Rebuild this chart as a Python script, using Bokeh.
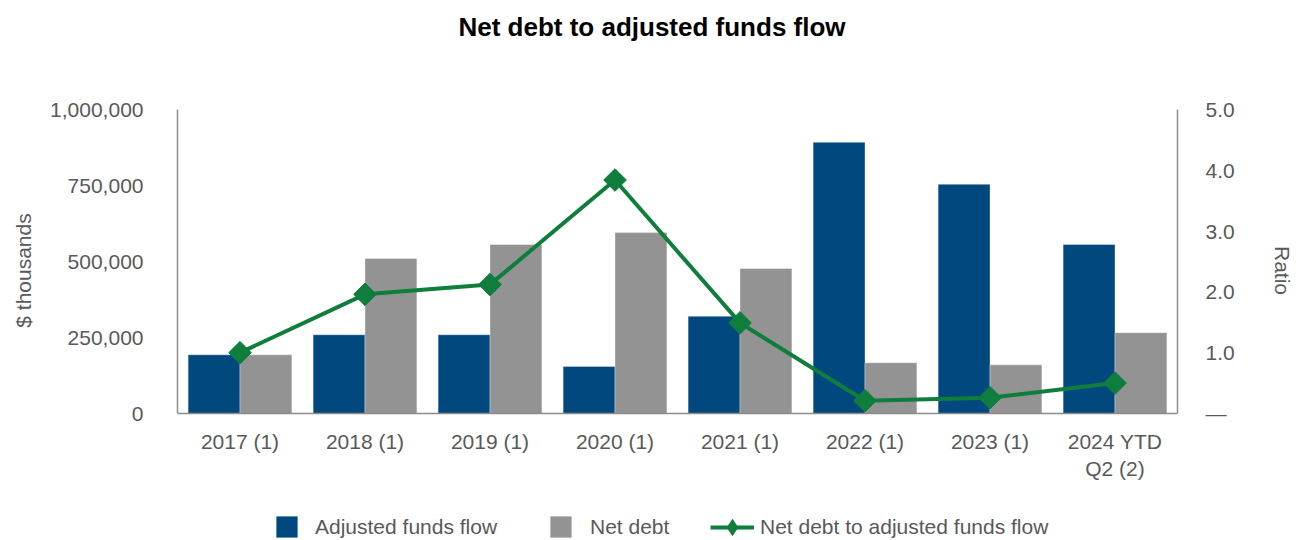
from bokeh.plotting import figure
from bokeh.models import (FactorRange, Range1d, LinearAxis, FixedTicker, NumeralTickFormatter,
                          ColumnDataSource, Legend, LegendItem, Label)
from bokeh.transform import dodge
from bokeh.embed import file_html
from bokeh.resources import INLINE

# ---- data ----
categories = ["2017 (1)", "2018 (1)", "2019 (1)", "2020 (1)", "2021 (1)",
              "2022 (1)", "2023 (1)", "2024 YTD\nQ2 (2)"]
adjusted_funds_flow = [193000, 259000, 259000, 155000, 320000, 892000, 754000, 556000]
net_debt = [193000, 510000, 556000, 595000, 477000, 167000, 160000, 266000]
ratio = [1.00, 1.96, 2.12, 3.84, 1.49, 0.21, 0.26, 0.50]
left_ticks = [0, 250000, 500000, 750000, 1000000]
right_ticks = [0, 1, 2, 3, 4, 5]
left_max = 1_000_000
right_max = 5

title_text = "Net debt to adjusted funds flow"
left_label = "$ thousands"
right_label = "Ratio"
series_names = ["Adjusted funds flow", "Net debt", "Net debt to adjusted funds flow"]

# ---- style / layout (pixels) ----
BLUE = "#00487d"
GRAY = "#939393"
GREEN = "#0f7d3c"
TEXT = "#595959"
AXIS = "#8c8c8c"
FONT = "Liberation Sans"
FS = "21px"
W, H = 1296, 540
FRAME_L, FRAME_R = 177, 1182
PX_TOP, PX_ZERO = 109, 413        # pixel rows of the axis maximum and of zero

# the plot frame covers the full height; value ranges are extended so that
# 0..max sits between PX_ZERO and PX_TOP
span = PX_ZERO - PX_TOP
y_lo = -left_max * (H - PX_ZERO) / span
y_hi = left_max * PX_ZERO / span
r_lo = -right_max * (H - PX_ZERO) / span
r_hi = right_max * PX_ZERO / span

src = ColumnDataSource(dict(cat=categories, aff=adjusted_funds_flow, nd=net_debt, ratio=ratio))

p = figure(x_range=FactorRange(factors=categories, range_padding=0),
           y_range=Range1d(y_lo, y_hi),
           width=W, height=H, output_backend="svg", toolbar_location=None,
           min_border_left=FRAME_L, min_border_right=W - FRAME_R,
           min_border_top=0, min_border_bottom=0)
p.extra_y_ranges = {"ratio": Range1d(r_lo, r_hi)}

p.outline_line_color = None
p.xgrid.grid_line_color = None
p.ygrid.grid_line_color = None
p.background_fill_color = "white"
p.border_fill_color = "white"

r_aff = p.vbar(x=dodge("cat", -0.2075, range=p.x_range), top="aff", width=0.415, source=src,
               fill_color=BLUE, line_color="white", line_alpha=0.35, line_width=1)
r_nd = p.vbar(x=dodge("cat", 0.2075, range=p.x_range), top="nd", width=0.415, source=src,
              fill_color=GRAY, line_color="white", line_alpha=0.35, line_width=1)
r_line = p.line(x="cat", y="ratio", source=src, y_range_name="ratio", line_width=4, line_color=GREEN)
# diamond key (sits fully underneath the rotated-square markers; gives the legend its diamond)
r_key = p.scatter(x="cat", y="ratio", source=src, y_range_name="ratio", marker="diamond",
                  size=20, fill_color=GREEN, line_color=None)
r_pts = p.scatter(x="cat", y="ratio", source=src, y_range_name="ratio", marker="square",
                  angle=0.785398, size=16, fill_color=GREEN, line_color=GREEN)

def style_axis(ax):
    ax.axis_line_color = AXIS
    ax.axis_line_width = 1.5
    ax.major_tick_line_color = None
    ax.minor_tick_line_color = None
    ax.major_tick_out = 0
    ax.major_tick_in = 0
    ax.minor_tick_out = 0
    ax.major_label_text_font = FONT
    ax.major_label_text_font_size = FS
    ax.major_label_text_color = TEXT
    ax.axis_label_text_font = FONT
    ax.axis_label_text_font_size = FS
    ax.axis_label_text_color = TEXT
    ax.axis_label_text_font_style = "normal"

# left axis
ly = p.yaxis[0]
ly.ticker = FixedTicker(ticks=left_ticks)
ly.formatter = NumeralTickFormatter(format="0,0")
ly.axis_label = left_label
ly.bounds = (0, left_max)
style_axis(ly)
ly.major_label_standoff = 34
ly.axis_label_standoff = 12

# bottom (category) axis, pinned at zero
bx = p.xaxis[0]
style_axis(bx)
bx.fixed_location = 0
bx.major_label_standoff = 16

# right axis
ry = LinearAxis(y_range_name="ratio", ticker=FixedTicker(ticks=right_ticks),
                formatter=NumeralTickFormatter(format="0.0"),
                major_label_overrides={0: "\u2014"}, axis_label=right_label,
                bounds=(0, right_max))
style_axis(ry)
ry.major_label_standoff = 28
ry.axis_label_standoff = 33
p.add_layout(ry, "right")

# title, centred on the whole chart
p.add_layout(Label(x=W / 2 + 3.5 - FRAME_L, y=H - 26, x_units="screen", y_units="screen",
                   text=title_text, text_font=FONT, text_font_size="26px",
                   text_font_style="bold", text_color="black",
                   text_align="center", text_baseline="middle"))

def make_legend(item, x, y, gw, gh, standoff):
    lg = Legend(items=[item], location=(x - FRAME_L, y), orientation="horizontal",
                glyph_width=gw, glyph_height=gh, label_standoff=standoff,
                padding=0, margin=0, spacing=0, border_line_color=None,
                background_fill_alpha=0, label_text_font=FONT,
                label_text_font_size=FS, label_text_color=TEXT)
    p.add_layout(lg)

make_legend(LegendItem(label=series_names[0], renderers=[r_aff]), 273, 0, 27, 27, 15)
make_legend(LegendItem(label=series_names[1], renderers=[r_nd]), 547, 0, 27, 27, 16)
make_legend(LegendItem(label=series_names[2], renderers=[r_line, r_key]), 710, -17, 44, 60, 6)

open("out.html", "w").write(file_html(p, INLINE))
